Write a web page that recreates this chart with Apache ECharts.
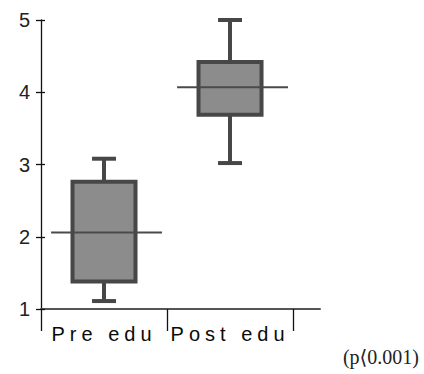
<!DOCTYPE html>
<html><head><meta charset="utf-8">
<script src="https://cdn.jsdelivr.net/npm/echarts@6/dist/echarts.min.js"></script>
<style>
html,body{margin:0;padding:0;background:#fff;}
#c{width:424px;height:374px;}
text[fill="#0a0a0a"]{letter-spacing:5px;}
</style></head><body><div id="c"></div>
<script>
const categories = ['Pre edu', 'Post edu'];
const lowWhisker = [1.11, 3.02];
const q1 = [1.38, 3.69];
const median = [2.06, 4.07];
const q3 = [2.76, 4.42];
const highWhisker = [3.08, 5.0];
const yTicks = [1, 2, 3, 4, 5];
const note = '(p⟨0.001)';

const data = categories.map((c, i) => [i + 0.5, lowWhisker[i], q1[i], median[i], q3[i], highWhisker[i]]);

const chart = echarts.init(document.getElementById('c'), null, {renderer: 'svg'});
const option = {
  animation: false,
  backgroundColor: '#fff',
  grid: {left: 41, right: 104, top: 20, bottom: 65},
  xAxis: {
    type: 'value', min: 0, max: 2.214,
    splitLine: {show: false},
    axisLine: {show: true, lineStyle: {color: '#555', width: 2}},
    axisTick: {show: true, length: 22, customValues: categories.map((c, i) => i).concat([categories.length]), lineStyle: {color: '#111', width: 1.3}},
    axisLabel: {
      customValues: categories.map((c, i) => i + 0.5),
      formatter: v => categories[Math.round(v - 0.5)],
      color: '#0a0a0a', fontFamily: 'Liberation Sans', fontSize: 20, margin: 15
    }
  },
  yAxis: [{
    type: 'value', min: yTicks[0], max: yTicks[yTicks.length - 1], interval: 1,
    splitLine: {show: false},
    axisLine: {show: true, lineStyle: {color: '#111', width: 1.3}},
    axisTick: {show: true, length: 5, lineStyle: {color: '#111', width: 1.3}},
    axisLabel: {color: '#222', fontFamily: 'Liberation Sans', fontSize: 20, margin: 11}
  }, {
    type: 'value', min: yTicks[0], max: yTicks[yTicks.length - 1], interval: 1, position: 'left',
    splitLine: {show: false},
    axisLine: {show: false},
    axisTick: {show: true, inside: true, length: 4, lineStyle: {color: '#111', width: 1.3}},
    axisLabel: {show: false}
  }],
  graphic: [{
    type: 'text', right: 5, top: 347,
    style: {text: note, font: '20px "Liberation Serif", "DejaVu Serif"', fill: '#222'}
  }],
  series: [{
    type: 'custom',
    clip: false,
    data: data,
    renderItem: function (params, api) {
      const x = api.value(0);
      const pLow = api.coord([x, api.value(1)]);
      const pQ1 = api.coord([x, api.value(2)]);
      const pMed = api.coord([x, api.value(3)]);
      const pQ3 = api.coord([x, api.value(4)]);
      const pHigh = api.coord([x, api.value(5)]);
      const boxL = api.coord([x - 0.25, 0])[0];
      const boxR = api.coord([x + 0.25, 0])[0];
      const medL = api.coord([x - 0.42, 0])[0];
      const medR = api.coord([x + 0.46, 0])[0];
      const capL = api.coord([x - 0.095, 0])[0];
      const capR = api.coord([x + 0.095, 0])[0];
      const cx = pMed[0];
      const dark = '#474747';
      const ls = {stroke: dark, lineWidth: 4};
      return {
        type: 'group',
        children: [
          {type: 'line', shape: {x1: cx, y1: pHigh[1], x2: cx, y2: pQ3[1]}, style: ls},
          {type: 'line', shape: {x1: cx, y1: pLow[1], x2: cx, y2: pQ1[1]}, style: ls},
          {type: 'line', shape: {x1: capL, y1: pHigh[1], x2: capR, y2: pHigh[1]}, style: ls},
          {type: 'line', shape: {x1: capL, y1: pLow[1], x2: capR, y2: pLow[1]}, style: ls},
          {type: 'rect', shape: {x: boxL, y: pQ3[1], width: boxR - boxL, height: pQ1[1] - pQ3[1]},
            style: {fill: '#8c8c8c', stroke: dark, lineWidth: 4}},
          {type: 'line', shape: {x1: medL, y1: pMed[1], x2: medR, y2: pMed[1]}, style: {stroke: '#4a4a4a', lineWidth: 2}}
        ]
      };
    }
  }]
};
chart.setOption(option);
</script></body></html>
